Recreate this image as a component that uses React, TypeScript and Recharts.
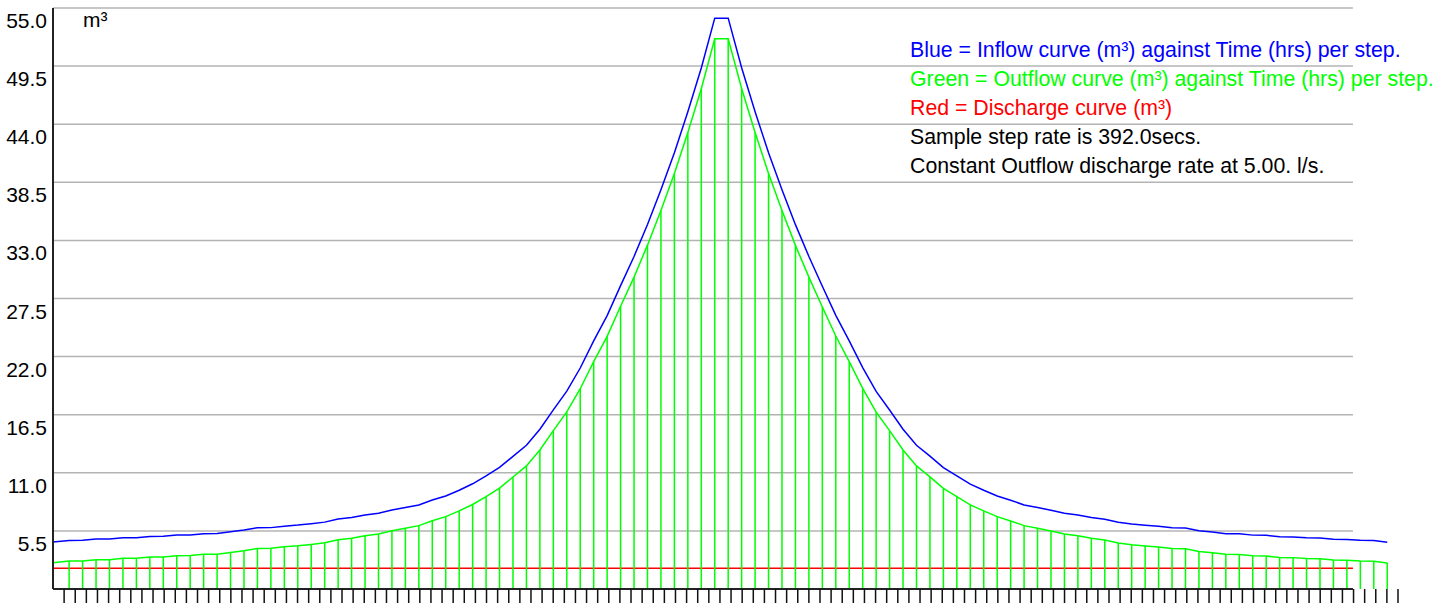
import React from "react";
import { LineChart, Line, XAxis, YAxis, ReferenceLine } from "recharts";

// step index of each sample (first sample sits on the y axis)
const BAR_OFFSET = 1.2;
const X_END = 96.65; // grid + axis line stop here, data runs past it
const X_MAX = 100;
const TICK_COUNT = 121;

const DISCHARGE = 1.96; // 5 l/s * 392 s

const inflow = [
  4.45, 4.6, 4.61, 4.73, 4.74, 4.86, 4.86, 4.98, 4.99, 5.11, 5.12, 5.24, 5.26, 5.42, 5.58, 5.8, 5.81,
  5.95, 6.05, 6.18, 6.33, 6.62, 6.76, 7.0, 7.17, 7.47, 7.71, 7.96, 8.42, 8.81, 9.35, 9.96, 10.7,
  11.51, 12.56, 13.61, 15.12, 16.95, 18.73, 20.92, 23.48, 25.88, 28.72, 31.48, 34.51, 37.79, 41.29,
  45.17, 49.32, 54.04, 54.04, 49.34, 45.17, 41.3, 37.79, 34.49, 31.48, 28.66, 25.91, 23.48, 20.96,
  18.7, 16.95, 15.12, 13.61, 12.58, 11.49, 10.7, 9.93, 9.35, 8.81, 8.4, 7.96, 7.71, 7.46, 7.17, 7.01,
  6.76, 6.6, 6.31, 6.15, 6.04, 5.94, 5.79, 5.78, 5.52, 5.4, 5.24, 5.22, 5.1, 5.09, 4.94, 4.93, 4.84,
  4.83, 4.71, 4.69, 4.61, 4.58, 4.43,
];

const outflow = [
  2.49, 2.64, 2.65, 2.77, 2.78, 2.9, 2.9, 3.02, 3.03, 3.15, 3.16, 3.28, 3.3, 3.46, 3.62, 3.84, 3.85,
  3.99, 4.09, 4.22, 4.37, 4.66, 4.8, 5.04, 5.21, 5.51, 5.75, 6.0, 6.46, 6.85, 7.39, 8.0, 8.74, 9.55,
  10.6, 11.65, 13.16, 14.99, 16.77, 18.96, 21.52, 23.92, 26.76, 29.52, 32.55, 35.83, 39.33, 43.21,
  47.36, 52.08, 52.08, 47.38, 43.21, 39.34, 35.83, 32.53, 29.52, 26.7, 23.95, 21.52, 19.0, 16.74,
  14.99, 13.16, 11.65, 10.62, 9.53, 8.74, 7.97, 7.39, 6.85, 6.44, 6.0, 5.75, 5.5, 5.21, 5.05, 4.8,
  4.64, 4.35, 4.19, 4.08, 3.98, 3.83, 3.82, 3.56, 3.44, 3.28, 3.26, 3.14, 3.13, 2.98, 2.97, 2.88,
  2.87, 2.75, 2.73, 2.65, 2.62, 2.47,
];

const yTicks = [5.5, 11, 16.5, 22, 27.5, 33, 38.5, 44, 49.5, 55];

const legendLines = [
  { text: "Blue = Inflow curve (m³) against Time (hrs) per step.", color: "#0000ff" },
  { text: "Green = Outflow curve (m³) against Time (hrs) per step.", color: "#00ff00" },
  { text: "Red = Discharge curve (m³)", color: "#ff0000" },
  { text: "Sample step rate is 392.0secs.", color: "#000000" },
  { text: "Constant Outflow discharge rate at 5.00. l/s.", color: "#000000" },
];

const FONT = "'Liberation Sans', Arial, sans-serif";

const data = inflow.map((v, i) => ({
  t: i === 0 ? 0 : BAR_OFFSET + i - 1,
  inflow: v,
  outflow: outflow[i],
}));

const xTicks = Array.from({ length: TICK_COUNT }, (_, i) => ((i + 1) * X_MAX) / TICK_COUNT);

const YTick = ({ x, y, payload }: any) => (
  <text x={x} y={y + 20} textAnchor="end" fontSize={21} fontFamily={FONT} fill="#000">
    {Number(payload.value).toFixed(1)}
  </text>
);

// x axis has tick marks only, no labels
const NoLabel = () => <g />;

export default function App() {
  return (
    <div style={{ position: "absolute", left: 0, top: 0, width: 1451, height: 603, background: "#fff" }}>
      <LineChart
        width={1451}
        height={603}
        data={data}
        margin={{ top: 8, right: 53, bottom: 0, left: 0 }}
      >
        <XAxis
          dataKey="t"
          type="number"
          domain={[0, X_MAX]}
          ticks={xTicks}
          interval={0}
          tick={NoLabel}
          tickSize={14}
          tickLine={{ stroke: "#111", strokeWidth: 1.5 }}
          axisLine={false}
          height={14}
        />
        <YAxis
          type="number"
          domain={[0, 55]}
          ticks={yTicks}
          interval={0}
          width={53}
          tickSize={0}
          tickMargin={6}
          tickLine={false}
          axisLine={{ stroke: "#222", strokeWidth: 2 }}
          tick={<YTick />}
        />
        {yTicks.map((v) => (
          <ReferenceLine
            key={"g" + v}
            segment={[
              { x: 0, y: v },
              { x: X_END, y: v },
            ]}
            stroke="#b4b4b4"
            strokeWidth={1.5}
          />
        ))}
        <ReferenceLine
          segment={[
            { x: 0, y: DISCHARGE },
            { x: X_END, y: DISCHARGE },
          ]}
          stroke="#ff0000"
          strokeWidth={1.5}
        />
        {data.slice(1).map((d) => (
          <ReferenceLine
            key={"b" + d.t}
            segment={[
              { x: d.t, y: 0 },
              { x: d.t, y: d.outflow },
            ]}
            stroke="#00ff00"
            strokeWidth={1.5}
          />
        ))}
        <ReferenceLine
          segment={[
            { x: 0, y: 0 },
            { x: X_END, y: 0 },
          ]}
          stroke="#222"
          strokeWidth={2}
        />
        <Line
          type="linear"
          dataKey="outflow"
          stroke="#00ff00"
          strokeWidth={1.5}
          dot={false}
          isAnimationActive={false}
        />
        <Line
          type="linear"
          dataKey="inflow"
          stroke="#0000ff"
          strokeWidth={1.5}
          dot={false}
          isAnimationActive={false}
        />
      </LineChart>
      <svg
        width={1451}
        height={603}
        style={{ position: "absolute", left: 0, top: 0, pointerEvents: "none" }}
      >
        <text x={83} y={27} fontSize={21} fontFamily={FONT} fill="#000">
          m³
        </text>
        {legendLines.map((l, i) => (
          <text key={i} x={910} y={57 + i * 29} fontSize={21.3} fontFamily={FONT} fill={l.color}>
            {l.text}
          </text>
        ))}
      </svg>
    </div>
  );
}
